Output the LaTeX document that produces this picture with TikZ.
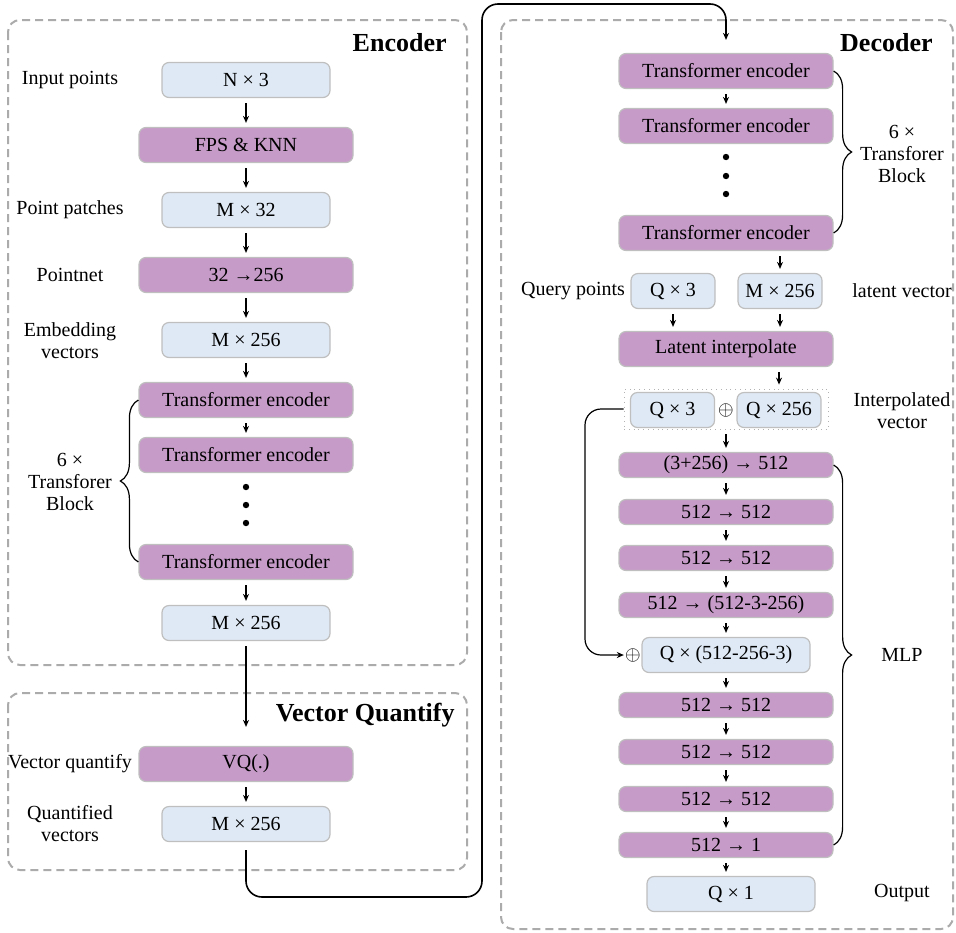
\documentclass[tikz,border=0pt]{standalone}
\usepackage{fontspec}
\setmainfont{Liberation Serif}
\usetikzlibrary{arrows.meta,decorations.pathreplacing}
\definecolor{lilac}{RGB}{198,155,200}
\definecolor{paleblue}{RGB}{222,233,245}
\definecolor{rim}{RGB}{191,191,191}

\begin{document}
\begin{tikzpicture}[x=0.5pt, y=-0.5pt,
  opbox/.style={draw=rim, fill=lilac, rounded corners=3.5pt, minimum width=107pt, minimum height=17.5pt, inner sep=0pt, line width=0.6pt},
  thinop/.style={opbox, minimum height=12.5pt},
  databox/.style={draw=rim, fill=paleblue, rounded corners=3.5pt, minimum width=84pt, minimum height=17.5pt, inner sep=0pt, line width=0.6pt},
  smalldata/.style={databox, minimum width=42pt},
  framebox/.style={draw=black!33, line width=1pt, dash pattern=on 4pt off 2.5pt, rounded corners=6pt},
  titletext/.style={font=\fontsize{13}{15}\selectfont\bfseries, anchor=east, inner sep=0pt},
  sidelab/.style={align=center, font=\fontsize{10}{11}\selectfont, inner sep=1pt},
  flow/.style={-{Stealth[length=3.5pt,width=3pt]}, line width=0.6pt, shorten <=2.5pt, shorten >=2pt},
  brc/.style={decorate, decoration={brace, amplitude=9pt}, line width=0.6pt}]
\useasboundingbox (0,0) rectangle (956,932);
\draw[framebox] (8,20) rectangle (467,665);
\draw[framebox] (8,693) rectangle (467,870);
\draw[framebox] (501,20) rectangle (953,929);

\node[titletext] (tenc) at (447,43) {Encoder};
\node[databox] (inp) at (246,80) {N × 3};
\node[opbox] (fps) at (246,145) {FPS \& KNN};
\node[databox] (patch) at (246,210) {M × 32};
\node[opbox] (pnet) at (246,275) {32 →256};
\node[databox] (embed) at (246,340) {M × 256};
\node[opbox] (enc1) at (246,400) {Transformer encoder};
\node[opbox] (enc2) at (246,455) {Transformer encoder};
\node[opbox] (enc3) at (246,562) {Transformer encoder};
\node[databox] (encout) at (246,623) {M × 256};
\fill (246,487) circle (1.6pt);
\fill (246,505) circle (1.6pt);
\fill (246,523) circle (1.6pt);
\node[sidelab] (linp) at (70,80) {Input points};
\node[sidelab] (lpatch) at (70,210) {Point patches};
\node[sidelab] (lpnet) at (70,275) {Pointnet};
\node[sidelab] (lembed) at (70,341) {Embedding\\vectors};
\node[sidelab] (lenc) at (70,482) {6 ×\\Transforer\\Block};
\draw[flow] (inp) -- (fps);
\draw[flow] (fps) -- (patch);
\draw[flow] (patch) -- (pnet);
\draw[flow] (pnet) -- (embed);
\draw[flow] (embed) -- (enc1);
\draw[flow] (enc1) -- (enc2);
\draw[flow] (enc3) -- (encout);
\draw[brc] (enc3.west) -- (enc1.west);

\node[titletext] (tvq) at (455,715) {Vector Quantify};
\node[opbox] (vq) at (246,764) {VQ(.)};
\node[databox] (quant) at (246,824) {M × 256};
\node[sidelab] (lvq) at (70,764) {Vector quantify};
\node[sidelab] (lquant) at (70,824) {Quantified\\vectors};
\draw[flow, shorten >=9.5pt] (encout) -- (vq);
\draw[flow] (vq) -- (quant);

\node[titletext] (tdec) at (933,43) {Decoder};
\node[opbox] (dec1) at (726,71) {Transformer encoder};
\node[opbox] (dec2) at (726,126) {Transformer encoder};
\node[opbox] (dec3) at (726,233) {Transformer encoder};
\fill (726,157) circle (1.6pt);
\fill (726,176) circle (1.6pt);
\fill (726,194) circle (1.6pt);
\node[sidelab] (ldec) at (902,154) {6 ×\\Transforer\\Block};
\node[smalldata] (query) at (673,291) {Q × 3};
\node[smalldata] (latent) at (780,291) {M × 256};
\node[sidelab] (lquery) at (573,291) {Query points};
\node[sidelab] (llatent) at (902,291) {latent vector};
\node[opbox] (interp) at (726,349) {Latent interpolate};
\node[draw=black!30, dotted, line width=0.4pt, minimum width=102pt, minimum height=20pt, inner sep=0pt] (grp) at (726,409) {};
\node[smalldata] (qpos) at (672.5,410) {Q × 3};
\node[inner sep=0.5pt] (cat) at (726,410) {$\oplus$};
\node[smalldata] (qfeat) at (779,410) {Q × 256};
\node[sidelab] (linterp) at (902,411) {Interpolated\\vector};
\draw[flow] (dec1) -- (dec2);
\draw[brc] (dec1.east) -- (dec3.east);
\draw[flow] (dec3.south -| latent) -- (latent);
\draw[flow] (query) -- (query |- interp.north);
\draw[flow] (latent) -- (latent |- interp.north);
\draw[flow] (interp.south -| qfeat) -- (grp.north -| qfeat);

\node[thinop] (mlp1) at (726,465) {(3+256) → 512};
\node[thinop] (mlp2) at (726,512) {512 → 512};
\node[thinop] (mlp3) at (726,558) {512 → 512};
\node[thinop] (mlp4) at (726,605) {512 → (512-3-256)};
\node[databox] (skip) at (726,655) {Q × (512-256-3)};
\node[inner sep=0.5pt] (add) at (633,655) {$\oplus$};
\node[thinop] (mlp5) at (726,705) {512 → 512};
\node[thinop] (mlp6) at (726,752) {512 → 512};
\node[thinop] (mlp7) at (726,799) {512 → 512};
\node[thinop] (mlp8) at (726,845) {512 → 1};
\node[databox] (out) at (731,894) {Q × 1};
\node[sidelab] (lmlp) at (902,655) {MLP};
\node[sidelab] (lout) at (902,893) {Output};
\draw[flow] (grp) -- (mlp1);
\draw[flow] (mlp1) -- (mlp2);
\draw[flow] (mlp2) -- (mlp3);
\draw[flow] (mlp3) -- (mlp4);
\draw[flow] (mlp4) -- (skip);
\draw[flow] (skip) -- (mlp5);
\draw[flow] (mlp5) -- (mlp6);
\draw[flow] (mlp6) -- (mlp7);
\draw[flow] (mlp7) -- (mlp8);
\draw[flow] (mlp8) -- (mlp8 |- out.north);
\draw[brc] (mlp1.east) -- (mlp8.east);
\coordinate (loop) at (585,655);
\draw[flow, rounded corners=8pt, shorten <=0pt, shorten >=0pt] (grp.west) -| (loop) -- (add);

\coordinate (bend1) at (482,897);
\coordinate (bend2) at (482,4);
\draw[flow, line width=0.8pt, rounded corners=8pt, shorten <=4pt, shorten >=6.5pt] (quant) |- (bend1) -- (bend2) -| (dec1);
\end{tikzpicture}
\end{document}
